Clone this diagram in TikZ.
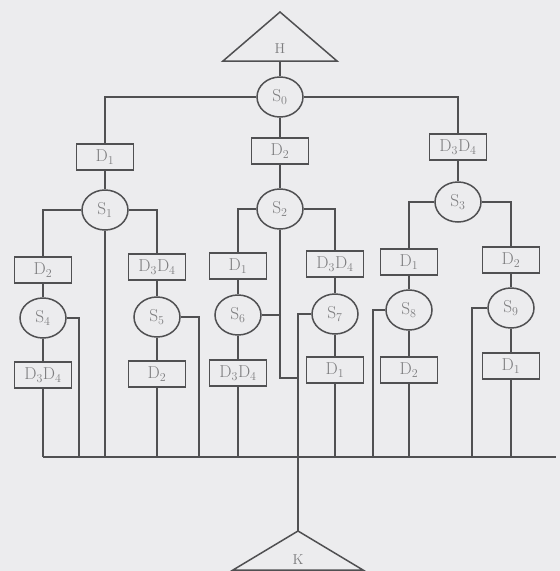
\documentclass[tikz,border=0pt]{standalone}
\usetikzlibrary{shapes.geometric,calc}
\definecolor{bg}{RGB}{236,236,238}
\definecolor{ln}{RGB}{80,80,82}
\definecolor{tx}{RGB}{125,125,127}
\tikzset{
  wire/.style={draw=ln,line width=1.5pt},
  dbox/.style={draw=ln,line width=1.5pt,fill=bg,minimum width=57pt,minimum height=26pt,inner sep=0pt,text=tx,font=\LARGE},
  snode/.style={ellipse,draw=ln,line width=1.5pt,fill=bg,minimum width=46pt,minimum height=40pt,inner sep=0pt,text=tx,font=\LARGE},
  tri/.style={draw=ln,line width=1.5pt,line join=miter},
  tlabel/.style={text=tx,font=\Large,inner sep=0pt}
}
\begin{document}
\begin{tikzpicture}[x=1pt,y=-1pt]
\fill[bg] (0,0) rectangle (560,571);
\useasboundingbox (0,0) rectangle (560,571);
% triangles
\draw[tri] (223,61) -- (280,12) -- (337,61) -- cycle;
\node[tlabel] (H) at (280,49) {H};
\coordinate (Hb) at (280,61);
\draw[tri] (233,570) -- (298,531) -- (363,570) -- cycle;
\node[tlabel] (K) at (298,560) {K};
\coordinate (Ka) at (298,531);
% bus coordinates
\coordinate (busL) at (43,457);
\coordinate (busR) at (556,457);
% nodes
\node[snode] (S0) at (280,97) {S$_0$};
\node[dbox] (D1a) at (105,157) {D$_1$};
\node[dbox] (D2a) at (280,151) {D$_2$};
\node[dbox] (D34a) at (458,147) {D$_3$D$_4$};
\node[snode] (S1) at (105,210) {S$_1$};
\node[snode] (S2) at (280,209) {S$_2$};
\node[snode] (S3) at (458,202) {S$_3$};
\node[dbox] (D2b) at (43,270) {D$_2$};
\node[dbox] (D34b) at (157,267) {D$_3$D$_4$};
\node[dbox] (D1c) at (238,266) {D$_1$};
\node[dbox] (D34c) at (335,264) {D$_3$D$_4$};
\node[dbox] (D1d) at (409,262) {D$_1$};
\node[dbox] (D2d) at (511,260) {D$_2$};
\node[snode] (S4) at (43,318) {S$_4$};
\node[snode] (S5) at (157,317) {S$_5$};
\node[snode] (S6) at (238,315) {S$_6$};
\node[snode] (S7) at (335,314) {S$_7$};
\node[snode] (S8) at (409,310) {S$_8$};
\node[snode] (S9) at (511,308) {S$_9$};
\node[dbox] (D34e) at (43,375) {D$_3$D$_4$};
\node[dbox] (D2e) at (157,374) {D$_2$};
\node[dbox] (D34f) at (238,373) {D$_3$D$_4$};
\node[dbox] (D1f) at (335,370) {D$_1$};
\node[dbox] (D2f) at (409,370) {D$_2$};
\node[dbox] (D1g) at (511,366) {D$_1$};
% junction coordinates
\coordinate (k1) at (298,314);
\coordinate (j2) at (298,378);
\coordinate (r4) at (79,457);
\coordinate (r5) at (199,457);
\coordinate (l8) at (373,457);
\coordinate (l9) at (472,457);
% wires
\draw[wire] (Hb) -- (S0.north);
\draw[wire] (S0.west) -| (D1a.north);
\draw[wire] (S0.east) -| (D34a.north);
\draw[wire] (S0.south) -- (D2a.north);
\draw[wire] (D1a.south) -- (S1.north);
\draw[wire] (D2a.south) -- (S2.north);
\draw[wire] (D34a.south) -- (S3.north);
\draw[wire] (S1.west) -| (D2b.north);
\draw[wire] (S1.east) -| (D34b.north);
\draw[wire] (S1.south) -- (S1.south |- busL);
\draw[wire] (S2.west) -| (D1c.north);
\draw[wire] (S2.east) -| (D34c.north);
\draw[wire] (S2.south) |- (j2);
\draw[wire] (S3.west) -| (D1d.north);
\draw[wire] (S3.east) -| (D2d.north);
\draw[wire] (D2b.south) -- (S4.north);
\draw[wire] (D34b.south) -- (S5.north);
\draw[wire] (D1c.south) -- (S6.north);
\draw[wire] (D34c.south) -- (S7.north);
\draw[wire] (D1d.south) -- (S8.north);
\draw[wire] (D2d.south) -- (S9.north);
\draw[wire] (S4.south) -- (D34e.north);
\draw[wire] (S5.south) -- (D2e.north);
\draw[wire] (S6.south) -- (D34f.north);
\draw[wire] (S7.south) -- (D1f.north);
\draw[wire] (S8.south) -- (D2f.north);
\draw[wire] (S9.south) -- (D1g.north);
\draw[wire] (S4.east) -| (r4);
\draw[wire] (S5.east) -| (r5);
\draw[wire] (S6.east) -- (S6.east -| S2.south);
\draw[wire] (S7.west) -- (k1) -- (Ka);
\draw[wire] (S8.west) -| (l8);
\draw[wire] (S9.west) -| (l9);
\draw[wire] (D34e.south) -- (D34e.south |- busL);
\draw[wire] (D2e.south) -- (D2e.south |- busL);
\draw[wire] (D34f.south) -- (D34f.south |- busL);
\draw[wire] (D1f.south) -- (D1f.south |- busL);
\draw[wire] (D2f.south) -- (D2f.south |- busL);
\draw[wire] (D1g.south) -- (D1g.south |- busL);
\draw[wire] (busL) -- (busR);
\end{tikzpicture}
\end{document}
